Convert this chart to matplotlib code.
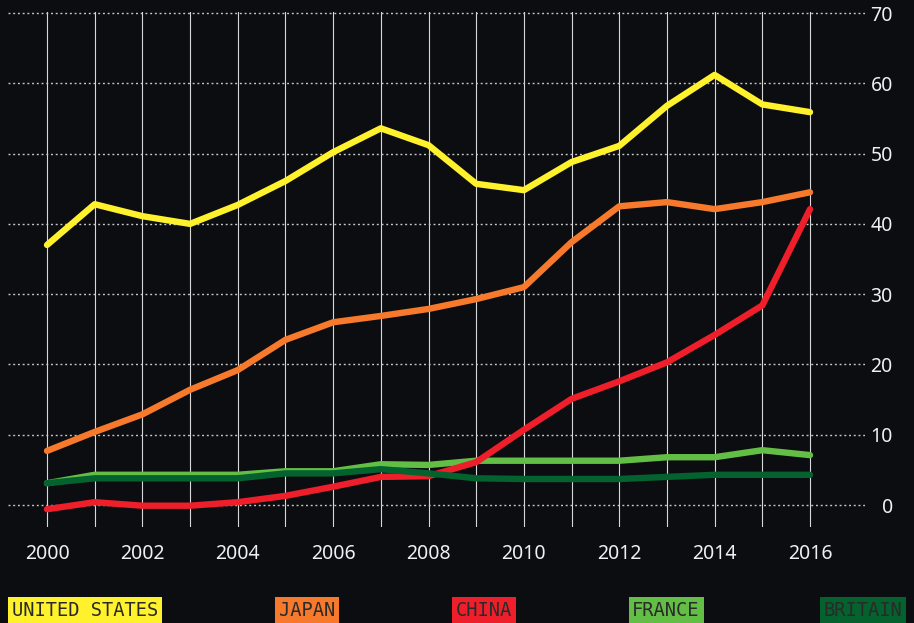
import matplotlib
matplotlib.use('Agg')
import matplotlib.pyplot as plt

years = list(range(2000, 2017))
united_states = [37.0, 42.8, 41.1, 40.0, 42.7, 46.1, 50.2, 53.6, 51.2, 45.7, 44.8, 48.8, 51.1, 56.8, 61.2, 57.0, 55.9]
japan = [7.7, 10.4, 12.9, 16.4, 19.2, 23.5, 26.0, 26.9, 27.9, 29.3, 31.0, 37.4, 42.5, 43.1, 42.1, 43.1, 44.5]
china = [-0.6, 0.4, -0.1, -0.1, 0.4, 1.3, 2.6, 4.0, 4.1, 6.1, 10.7, 15.1, 17.6, 20.3, 24.2, 28.4, 42.1]
france = [3.1, 4.3, 4.3, 4.3, 4.3, 4.8, 4.8, 5.8, 5.7, 6.3, 6.3, 6.3, 6.3, 6.8, 6.8, 7.8, 7.1]
britain = [3.1, 3.8, 3.8, 3.8, 3.8, 4.5, 4.5, 5.1, 4.5, 3.8, 3.7, 3.7, 3.7, 4.0, 4.3, 4.3, 4.3]

series = [
    ('UNITED STATES', united_states, '#fff22d', 2),
    ('JAPAN', japan, '#f7792b', 2),
    ('FRANCE', france, '#62be45', 3),
    ('CHINA', china, '#ee1f2b', 4),
    ('BRITAIN', britain, '#04622f', 5),
]
legend_order = ['UNITED STATES', 'JAPAN', 'CHINA', 'FRANCE', 'BRITAIN']
legend_x = [85, 307, 484, 666, 863]

BG = '#0c0d11'
W, H = 914, 623
fig = plt.figure(figsize=(W / 100, H / 100), dpi=100, facecolor=BG)
ax = fig.add_axes([8 / W, (H - 527) / H, (865 - 8) / W, (527 - 12) / H])
ax.set_facecolor(BG)

for name, vals, col, z in series:
    ax.plot(years, vals, color=col, lw=4.6, solid_capstyle='round',
            solid_joinstyle='round', zorder=z)

ax.set_xlim(1999.182, 2017.153)
ax.set_ylim(-3.13, 70.15)
ax.set_xticks(years)
ax.set_xticklabels([str(y) if y % 2 == 0 else '' for y in years])
ax.set_yticks(range(0, 71, 10))

ax.grid(axis='x', color='#d8d8d8', lw=0.8, zorder=1)
ax.grid(axis='y', color='#c8c8c8', lw=1.0, ls=(0, (1.4, 2.0)), zorder=1)
for s in ax.spines.values():
    s.set_visible(False)

ax.yaxis.tick_right()
ax.tick_params(axis='both', length=0, colors='#f0f0f0', labelsize=14)
ax.tick_params(axis='x', pad=12)
ax.tick_params(axis='y', pad=20)
for lbl in ax.get_yticklabels():
    lbl.set_horizontalalignment('right')
for lbl in ax.get_xticklabels() + ax.get_yticklabels():
    lbl.set_fontfamily('Noto Sans')

colors = {name: col for name, _, col, _ in series}
for name, x in zip(legend_order, legend_x):
    fig.text(x / W, (H - 610) / H, name, ha='center', va='center',
             family='DejaVu Sans Mono', fontsize=13.5, color='#2a2a2a',
             bbox=dict(boxstyle='square,pad=0.2', fc=colors[name], ec='none'))

fig.savefig('out.png', dpi=100, facecolor=BG)
